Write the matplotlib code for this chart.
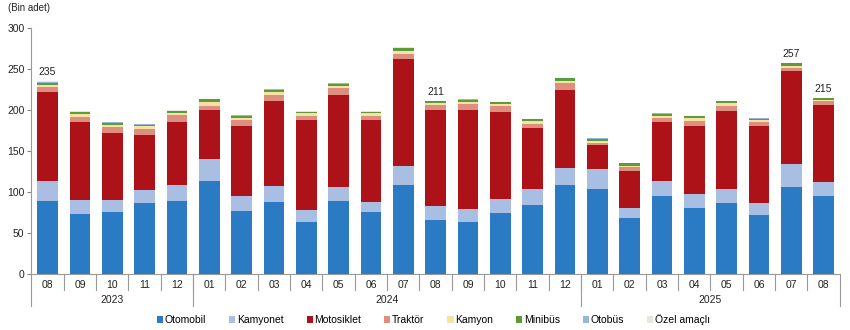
import matplotlib
matplotlib.use("Agg")
import matplotlib.pyplot as plt
import matplotlib.transforms as mtransforms
import numpy as np

plt.rcParams['font.family'] = ['Liberation Sans', 'DejaVu Sans']

months = ["08", "09", "10", "11", "12",
          "01", "02", "03", "04", "05", "06", "07", "08", "09", "10", "11", "12",
          "01", "02", "03", "04", "05", "06", "07", "08"]
years = ["2023", "2024", "2025"]
year_counts = [5, 12, 8]

otomobil   = [89, 73, 75, 86, 89, 113, 77, 88, 63, 89, 75, 109, 66, 63, 74, 84, 109, 104, 68, 95, 80, 87, 72, 106, 95]
kamyonet   = [24, 17, 15, 16, 19, 27, 18, 19, 15, 17, 13, 23, 17, 16, 17, 20, 20, 24, 13, 18, 18, 17, 15, 28, 17]
motosiklet = [109, 95, 82, 68, 77, 60, 85, 104, 110, 112, 100, 130, 117, 121, 107, 74, 95, 29, 45, 72, 83, 95, 93, 114, 94.5]
traktor    = [6, 7, 7, 7, 9, 4.5, 8, 7.5, 5, 8.5, 5, 6.5, 6, 7, 7, 5.5, 8.5, 3, 4, 5.5, 6, 6, 5, 3.5, 4]
kamyon     = [3, 3, 3, 3, 2.5, 5.5, 2.5, 3.5, 3, 3, 3, 4, 2.5, 2.5, 2.5, 3, 3, 2.5, 2, 2.5, 3, 3, 2.5, 2.5, 2]
minibus    = [2.5, 2, 2.5, 2, 2, 3, 2.5, 3, 1, 2.5, 1, 3, 2, 3, 2, 2.5, 3, 2.5, 3, 2.5, 2.5, 2.5, 2, 3, 2]
otobus     = [0.5, 0.5, 0.5, 0.5, 0.5, 0.5, 0.5, 0.5, 0.5, 0.5, 0.5, 0.5, 0.3, 0.5, 0.3, 0.3, 0.3, 0.3, 0.3, 0.3, 0.3, 0.3, 0.3, 0.3, 0.3]
ozel       = [1, 1, 0.5, 0.5, 0.5, 0.5, 0.5, 0.5, 1.5, 0.5, 1.5, 0.5, 0.2, 0.5, 0.3, 0.3, 0.3, 0.3, 0.3, 0.3, 0.3, 0.3, 0.3, 0.3, 0.2]

series_names = ["Otomobil", "Kamyonet", "Motosiklet", "Traktör", "Kamyon", "Minibüs", "Otobüs", "Özel amaçlı"]
series_vals = [otomobil, kamyonet, motosiklet, traktor, kamyon, minibus, otobus, ozel]
colors = ["#2A7AC4", "#A8BFE3", "#AD1218", "#DD8E7E", "#F7E2A3", "#5C9B3C", "#9AB5DD", "#E6E6DC"]

label_idx = [0, 12, 23, 24]
label_txt = ["235", "211", "257", "215"]

fig = plt.figure(figsize=(8.5, 3.3), dpi=100)
ax = fig.add_axes([0.037, 0.170, 0.951, 0.745])

x = np.arange(len(months))
bottom = np.zeros(len(months))
handles = []
for name, vals, col in zip(series_names, series_vals, colors):
    h = ax.bar(x, vals, bottom=bottom, width=0.64, color=col, label=name, linewidth=0)
    handles.append(h)
    bottom = bottom + np.array(vals)

for i, t in zip(label_idx, label_txt):
    ax.text(x[i], bottom[i] + 5, t, ha='center', va='bottom', fontsize=7.5, color='#222222')

ax.set_xlim(-0.5, len(months) - 0.5)
ax.set_ylim(0, 300)
ax.set_yticks(np.arange(0, 301, 50))
ax.tick_params(axis='y', labelsize=7.5, length=3, color='#888888', labelcolor='#222222', pad=2)
ax.set_xticks([])
for s in ['top', 'right']:
    ax.spines[s].set_visible(False)
ax.spines['left'].set_color('#999999')
ax.spines['bottom'].set_color('#999999')
ax.spines['left'].set_linewidth(0.8)
ax.spines['bottom'].set_linewidth(0.8)

trans = mtransforms.blended_transform_factory(ax.transData, ax.transAxes)
# month labels and separators
for i, m in enumerate(months):
    ax.text(i, -0.045, m, transform=trans, ha='center', va='center', fontsize=7.5, color='#222222')
for b in np.arange(0.5, len(months) - 0.5, 1.0):
    ax.plot([b, b], [0, -0.065], transform=trans, color='#999999', lw=0.8, clip_on=False)
# year separators and labels
edges = np.concatenate([[0], np.cumsum(year_counts)]) - 0.5
for e in edges:
    ax.plot([e, e], [0, -0.13], transform=trans, color='#999999', lw=0.8, clip_on=False)
for k, yname in enumerate(years):
    c = (edges[k] + edges[k + 1]) / 2
    ax.text(c, -0.105, yname, transform=trans, ha='center', va='center', fontsize=7.5, color='#222222')

fig.text(0.009, 0.975, "(Bin adet)", ha='left', va='center', fontsize=7, color='#222222')

leg = fig.legend(handles=handles, labels=series_names, loc='center', bbox_to_anchor=(0.51, 0.032),
                 ncol=8, frameon=False, fontsize=7.5, handlelength=0.6, handleheight=0.6,
                 handletextpad=0.15, columnspacing=2.2, borderaxespad=0)

fig.savefig("out.png", dpi=100)
